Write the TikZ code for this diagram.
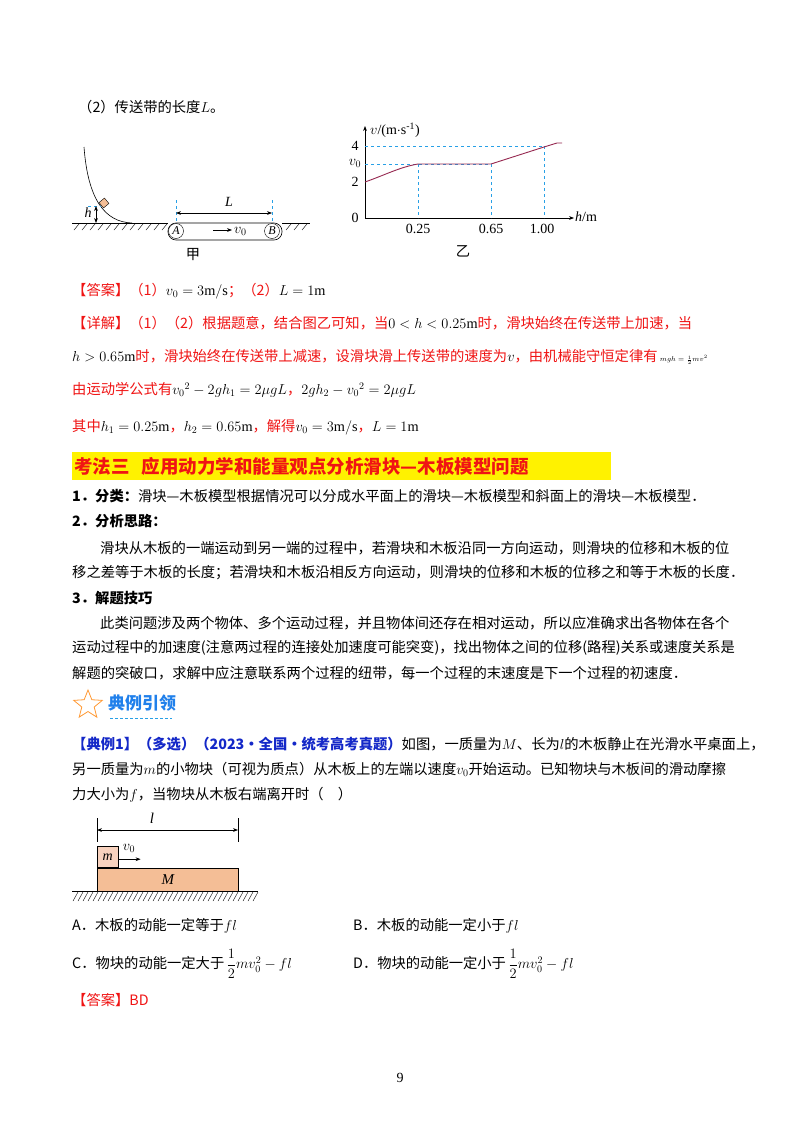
\documentclass[tikz,border=0pt]{standalone}
\usepackage{fontspec}
\usepackage{amsmath}
\setmainfont{Liberation Serif}
\newfontfamily\cjk{Noto Sans CJK SC}
\usetikzlibrary{arrows.meta,shapes.geometric}
\definecolor{rd}{RGB}{240,20,20}
\definecolor{bl}{RGB}{20,40,200}
\definecolor{cy}{RGB}{40,160,230}
\definecolor{pk}{RGB}{150,40,80}
\definecolor{wood}{RGB}{244,190,150}
\definecolor{woodl}{RGB}{248,210,190}
\tikzset{
 tx/.style={anchor=west,inner sep=0pt,font=\cjk\fontsize{14.3}{16}\selectfont},
 rtx/.style={tx,text=rd},
 dsh/.style={cy,dashed,line width=0.5pt},
 ar/.style={-{Stealth[length=5pt]},line width=0.6pt},
 dar/.style={{Stealth[length=5pt]}-{Stealth[length=5pt]},line width=0.6pt},
 lbl/.style={inner sep=0pt,font=\fontsize{14}{15}\selectfont},
}
\begin{document}
\begin{tikzpicture}[x=1pt,y=-1pt]
\useasboundingbox (0,0) rectangle (800,1132);
\fill[white] (0,0) rectangle (800,1132);
\node[tx] (q2) at (78,107) {（2）传送带的长度$L$。};
% fig jia
\draw[line width=0.6pt] (84,147) .. controls (88,200) and (105,222) .. (132,223);
\draw[line width=0.6pt] (72,223) -- (168,223) (282,223) -- (310,223);
\foreach \x in {74,82,...,166} \draw[line width=0.4pt] (\x,230) -- (\x+5,224);
\foreach \x in {286,294,...,306} \draw[line width=0.4pt] (\x,230) -- (\x+5,224);
\node[draw,fill=wood,minimum size=7pt,inner sep=0pt,rotate=40] (blk) at (104,203) {};
\draw[dsh] (88,206) -- (101,206);
\draw[dar] (96,206) -- (96,223);
\node[lbl,font=\itshape\fontsize{14}{14}\selectfont] (hl) at (88,213) {h};
\draw[line width=0.6pt,rounded corners=8pt] (168,223) rectangle (282,240);
\node[draw,circle,minimum size=15pt,inner sep=0pt,fill=white,font=\itshape\fontsize{12}{13}\selectfont] (A) at (176,231) {A};
\node[draw,circle,minimum size=15pt,inner sep=0pt,fill=white,font=\itshape\fontsize{12}{13}\selectfont] (B) at (272,231) {B};
\draw[dsh] (176,200) -- (176,223) (272,200) -- (272,223);
\draw[dar] (176,213) -- (272,213);
\node[lbl,font=\itshape\fontsize{14}{14}\selectfont] (Ll) at (229,202) {L};
\draw[ar] (213,230) -- (232,230);
\node[lbl,anchor=west] (v0a) at (234,231) {$v_0$};
\node[tx,anchor=center] (jia) at (193,255) {甲};
% fig yi
\coordinate (O) at (365,218);
\draw[ar] (O) -- (574,218);
\draw[ar] (O) -- (365,126);
\node[lbl,anchor=west] (yl) at (370,130) {$v$/(m$\cdot$s$^{\text{-1}}$)};
\node[lbl,anchor=west] (xl) at (575,217) {\textit{h}/m};
\draw[dsh] (365,146) -- (544,146) (365,164) -- (491,164);
\draw[dsh] (418,164) -- (418,218) (491,164) -- (491,218) (544,146) -- (544,218);
\draw[pk,line width=0.9pt] (365,182) .. controls (385,175) and (400,167) .. (418,164) -- (491,164) -- (544,147) -- (557,143) -- (562,143);
\node[lbl] (t4) at (355,146) {4};
\node[lbl] (t3) at (355,163) {$v_0$};
\node[lbl] (t2) at (355,182) {2};
\node[lbl] (t0) at (355,218) {0};
\node[lbl] (x1) at (418,229) {0.25};
\node[lbl] (x2) at (491,229) {0.65};
\node[lbl] (x3) at (542,229) {1.00};
\node[tx,anchor=center] (yi) at (463,251) {乙};
% answer
\node[rtx] (ans) at (72,291) {【答案】（1）\textcolor{black}{$v_0=3\mathrm{m/s}$}；（2）\textcolor{black}{$L=1\mathrm{m}$}};
\node[rtx] (d1) at (72,323) {【详解】（1）（2）根据题意，结合图乙可知，当\textcolor{black}{$0<h<0.25\mathrm{m}$}时，滑块始终在传送带上加速，当};
\node[rtx] (d2) at (72,357) {\textcolor{black}{$h>0.65\mathrm{m}$}时，滑块始终在传送带上减速，设滑块滑上传送带的速度为\textcolor{black}{$v$}，由机械能守恒定律有\,\textcolor{black}{\scriptsize$mgh=\frac12mv^2$}};
\node[rtx] (d3) at (72,390) {由运动学公式有\textcolor{black}{$v_0{}^2-2gh_1=2\mu gL$}，\textcolor{black}{$2gh_2-v_0{}^2=2\mu gL$}};
\node[rtx] (d4) at (72,427) {其中\textcolor{black}{$h_1=0.25\mathrm{m}$}，\textcolor{black}{$h_2=0.65\mathrm{m}$}，解得\textcolor{black}{$v_0=3\mathrm{m/s}$}，\textcolor{black}{$L=1\mathrm{m}$}};
% heading
\fill[yellow] (72,452) rectangle (611,480);
\node[tx,text=rd,font=\cjk\bfseries\fontsize{18.5}{20}\selectfont] (hd) at (74,466) {考法三\hspace{12pt}应用动力学和能量观点分析滑块—木板模型问题};
\node[tx] (p1) at (72,496) {\textbf{1．分类：}滑块—木板模型根据情况可以分成水平面上的滑块—木板模型和斜面上的滑块—木板模型．};
\node[tx] (p2) at (72,521) {\textbf{2．分析思路：}};
\node[tx] (p3) at (100,548) {滑块从木板的一端运动到另一端的过程中，若滑块和木板沿同一方向运动，则滑块的位移和木板的位};
\node[tx] (p4) at (72,573) {移之差等于木板的长度；若滑块和木板沿相反方向运动，则滑块的位移和木板的位移之和等于木板的长度．};
\node[tx] (p5) at (72,598) {\textbf{3．解题技巧}};
\node[tx] (p6) at (100,623) {此类问题涉及两个物体、多个运动过程，并且物体间还存在相对运动，所以应准确求出各物体在各个};
\node[tx] (p7) at (72,648) {运动过程中的加速度(注意两过程的连接处加速度可能突变)，找出物体之间的位移(路程)关系或速度关系是};
\node[tx] (p8) at (72,673) {解题的突破口，求解中应注意联系两个过程的纽带，每一个过程的末速度是下一个过程的初速度．};
% example banner
\node[star,star points=5,star point ratio=2.3,draw=orange!80,line width=0.8pt,minimum size=30pt,inner sep=0pt] (st) at (88,705) {};
\node[tx,text=cy!80!blue,font=\cjk\bfseries\fontsize{17}{18}\selectfont] (dl) at (108,703) {典例引领};
\draw[cy,dashed,line width=1pt,dash pattern=on 3pt off 2pt] (110,718) -- (172,718);
\node[tx] (e1) at (72,744) {\textcolor{bl}{\textbf{【典例1】（多选）（2023·全国·统考高考真题）}}如图，一质量为$M$、长为$l$的木板静止在光滑水平桌面上，};
\node[tx] (e2) at (72,769) {另一质量为$m$的小物块（可视为质点）从木板上的左端以速度$v_0$开始运动。已知物块与木板间的滑动摩擦};
\node[tx] (e3) at (72,795) {力大小为$f$，当物块从木板右端离开时（\hspace{14pt}）};
% board figure
\draw[line width=0.6pt] (97,818) -- (97,842) (238,818) -- (238,842);
\draw[dar] (97,830) -- (238,830);
\node[lbl,font=\itshape\fontsize{15}{15}\selectfont] (ll) at (152,818) {l};
\node[draw,fill=wood,line width=0.6pt,minimum width=141pt,minimum height=23pt,inner sep=0pt,anchor=north west,font=\itshape\fontsize{15}{15}\selectfont] (M) at (97,868) {M};
\node[draw,fill=woodl,line width=0.6pt,minimum width=21pt,minimum height=21pt,inner sep=0pt,anchor=south west,font=\itshape\fontsize{14}{14}\selectfont] (m) at (97,868) {m};
\draw[ar] (m.east) ++(0,2) coordinate (ms) -- ++(22,0) coordinate (me);
\node[lbl] (v0b) at (129,848) {$v_0$};
\draw[line width=0.7pt] (72,891) -- (258,891);
\foreach \x in {73,78,...,253} \draw[line width=0.4pt] (\x,901) -- (\x+5,892);
% options
\node[tx] (oA) at (72,926) {A．木板的动能一定等于$fl$};
\node[tx] (oB) at (353,926) {B．木板的动能一定小于$fl$};
\node[tx] (oC) at (72,964) {C．物块的动能一定大于\,$\dfrac{1}{2}mv_0^2-fl$};
\node[tx] (oD) at (353,964) {D．物块的动能一定小于\,$\dfrac{1}{2}mv_0^2-fl$};
\node[rtx] (ans2) at (72,1000) {【答案】BD};
\node[lbl] (pg) at (400,1078) {9};
\end{tikzpicture}
\end{document}
